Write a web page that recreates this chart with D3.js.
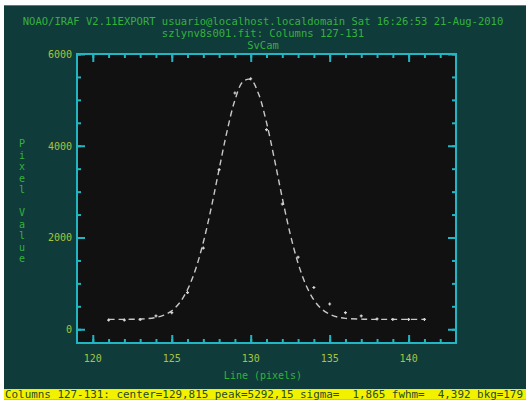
<!DOCTYPE html>
<html><head><meta charset="utf-8">
<script src="https://cdn.jsdelivr.net/npm/d3@7"></script>
<style>html,body{margin:0;padding:0;background:#fff;}svg{display:block;}</style>
</head><body>
<script>
// ---- data ----
const titleLines = [
  "NOAO/IRAF V2.11EXPORT usuario@localhost.localdomain Sat 16:26:53 21-Aug-2010",
  "szlynv8s001.fit: Columns 127-131",
  "SvCam"
];
const xLabel = "Line (pixels)";
const yLabel = "Pixel Value";
const statusText = "Columns 127-131: center=129,815 peak=5292,15 sigma=  1,865 fwhm=  4,392 bkg=179";
const columns = [121,122,123,124,125,126,127,128,129,130,131,132,133,134,135,136,137,138,139,140,141];
const pixelValues = [200,200,210,290,360,800,1770,3480,5150,5460,4350,2730,1570,910,550,360,290,225,215,215,215];
const fitX = [121,122,123,123.5,124,124.5,125,125.5,126,126.5,127,127.5,128,128.5,129,129.5,130,130.5,131,131.5,132,132.5,133,133.5,134,134.5,135,135.5,136,137,138,139,140,141];
const fitY = [215,215,222,232,256,306,403,577,865,1298,1897,2648,3489,4314,4992,5395,5444,5127,4508,3710,2861,2079,1438,961,639,439,325,265,237,220,215,215,215,215];
const xMajorTicks = [120,125,130,135,140];
const yMajorTicks = [0,2000,4000,6000];

// ---- layout ----
const W = 529, H = 409;
const plot = {l:77, r:456, t:54, b:343};
const mono = "'DejaVu Sans Mono', 'Liberation Mono', monospace";
const green = "#35b23c", yellowGreen = "#a9c43c", cyan = "#22b6c4";

const svg = d3.select("body").append("svg").attr("width", W).attr("height", H);
svg.append("rect").attr("width", W).attr("height", H).attr("fill", "#ffffff");
svg.append("rect").attr("x", 4).attr("y", 5).attr("width", 522).attr("height", 384).attr("fill", "#103b3b");
svg.append("line").attr("x1", 4).attr("x2", 526).attr("y1", 5.5).attr("y2", 5.5).attr("stroke", "#3f7fa8").attr("stroke-width", 1);

const x = d3.scaleLinear().domain([119, 143]).range([plot.l, plot.r]);
const y = d3.scaleLinear().domain([-300, 6000]).range([plot.b, plot.t]);

svg.append("rect").attr("x", plot.l).attr("y", plot.t).attr("width", plot.r - plot.l).attr("height", plot.b - plot.t).attr("fill", "#111111");

// titles
svg.selectAll("text.title").data(titleLines).join("text")
  .attr("class", "title")
  .attr("x", 263).attr("y", (d, i) => 25 + i * 12)
  .attr("text-anchor", "middle").attr("font-family", mono).attr("font-size", "10.5px")
  .attr("fill", green).text(d => d);

// axes with ticks on all four sides
const xMinor = d3.range(120, 143, 1);
const yMinor = d3.range(0, 6001, 500);
function tickAxis(axisGen, transform) {
  const g = svg.append("g").attr("transform", transform).call(axisGen);
  g.select(".domain").remove();
  g.selectAll("line").attr("stroke", cyan).attr("stroke-width", 2);
  g.selectAll("text").remove();
  return g;
}
// minor (inward)
tickAxis(d3.axisTop(x).tickValues(xMinor).tickSize(4), `translate(0,${plot.b})`);
tickAxis(d3.axisBottom(x).tickValues(xMinor).tickSize(4), `translate(0,${plot.t})`);
tickAxis(d3.axisRight(y).tickValues(yMinor).tickSize(4), `translate(${plot.l},0)`);
tickAxis(d3.axisLeft(y).tickValues(yMinor).tickSize(4), `translate(${plot.r},0)`);
// major
tickAxis(d3.axisTop(x).tickValues(xMajorTicks).tickSize(8), `translate(0,${plot.b})`);
tickAxis(d3.axisBottom(x).tickValues(xMajorTicks).tickSize(8), `translate(0,${plot.t})`);
tickAxis(d3.axisRight(y).tickValues(yMajorTicks).tickSize(8), `translate(${plot.l},0)`);
tickAxis(d3.axisLeft(y).tickValues(yMajorTicks).tickSize(8), `translate(${plot.r},0)`);

// frame
svg.append("rect").attr("x", plot.l).attr("y", plot.t).attr("width", plot.r - plot.l).attr("height", plot.b - plot.t)
  .attr("fill", "none").attr("stroke", cyan).attr("stroke-width", 2);

// tick labels
svg.selectAll("text.xl").data(xMajorTicks).join("text").attr("class", "xl")
  .attr("x", d => x(d)).attr("y", 362).attr("text-anchor", "middle")
  .attr("font-family", mono).attr("font-size", "10px").attr("fill", yellowGreen).text(d => d);
svg.selectAll("text.yl").data(yMajorTicks).join("text").attr("class", "yl")
  .attr("x", 72).attr("y", d => y(d) + 4).attr("text-anchor", "end")
  .attr("font-family", mono).attr("font-size", "10px").attr("fill", yellowGreen).text(d => d);

// axis labels
svg.append("text").attr("x", 263).attr("y", 379).attr("text-anchor", "middle")
  .attr("font-family", mono).attr("font-size", "10px").attr("fill", green).text(xLabel);
svg.selectAll("text.ylab").data(yLabel.split("")).join("text").attr("class", "ylab")
  .attr("x", 22).attr("y", (d, i) => 147 + i * 11.5).attr("text-anchor", "middle")
  .attr("font-family", mono).attr("font-size", "10px").attr("fill", green).text(d => d);

// fit curve
const line = d3.line().x(d => x(d[0])).y(d => y(d[1])).curve(d3.curveCatmullRom);
svg.append("path").datum(fitX.map((v, i) => [v, fitY[i]]))
  .attr("d", line).attr("fill", "none").attr("stroke", "#c8c8c8").attr("stroke-width", 1.4)
  .attr("stroke-dasharray", "6,4");

// data points
const pts = svg.append("g");
columns.forEach((c, i) => {
  const px = x(c), py = y(pixelValues[i]);
  pts.append("path").attr("d", `M${px-1.5},${py}H${px+1.5}M${px},${py-1.5}V${py+1.5}`)
    .attr("stroke", "#d8d8d8").attr("stroke-width", 1.2).attr("fill", "none");
});

// status bar
svg.append("rect").attr("x", 4).attr("y", 389).attr("width", 522).attr("height", 10).attr("fill", "#f2f200");
svg.append("line").attr("x1", 4).attr("x2", 526).attr("y1", 399.5).attr("y2", 399.5).attr("stroke", "#bbbbbb");
svg.append("text").attr("x", 5).attr("y", 397.5).attr("font-family", mono).attr("font-size", "10.9px")
  .attr("xml:space", "preserve").style("white-space", "pre")
  .attr("fill", "#2a4a20").text(statusText);
</script>
</body></html>
